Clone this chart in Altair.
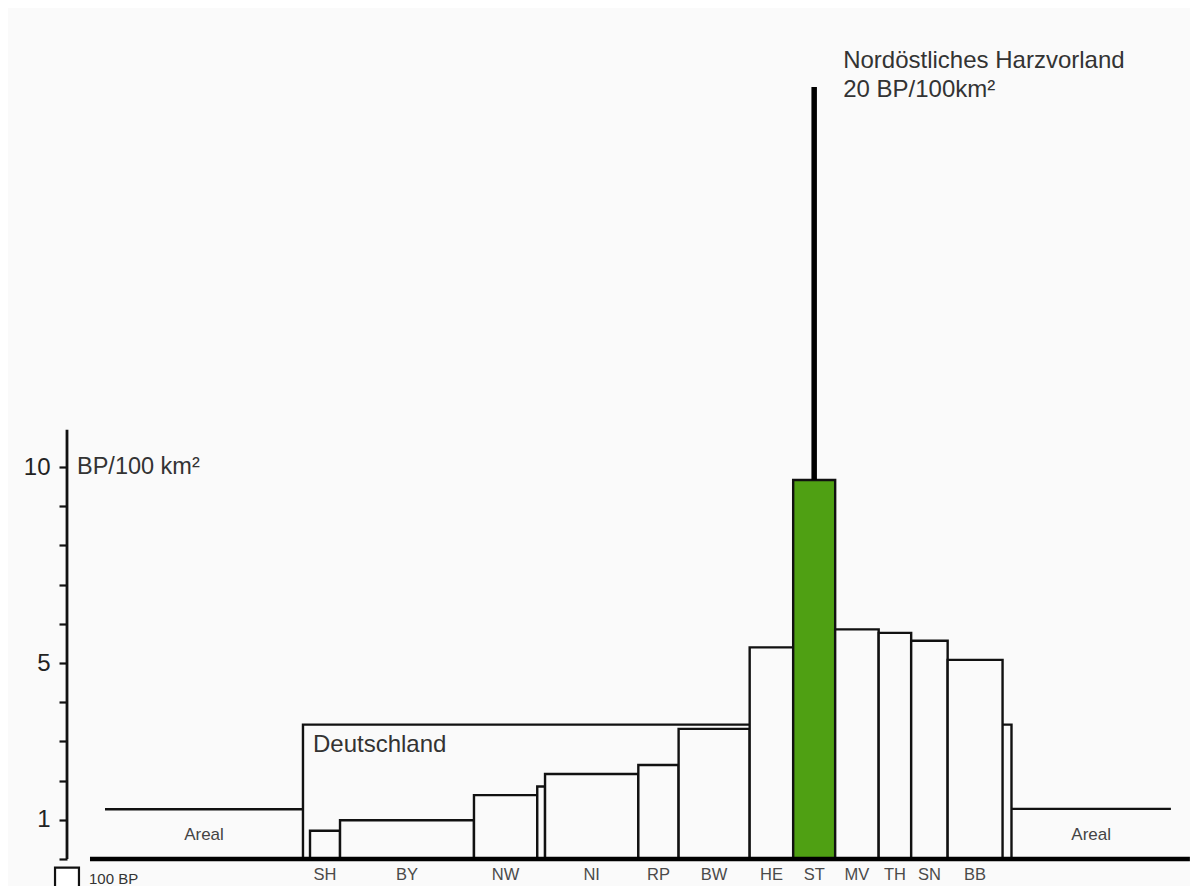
import altair as alt
import pandas as pd

# ---------------- data ----------------
# Federal states: width = area (1000 km²), height = density (BP / 100 km²)
state_labels = ["SH", "BY", "NW", "", "NI", "RP", "BW", "HE", "ST", "MV", "TH", "SN", "BB"]
state_area = [15.8, 70.5, 33.3, 4.1, 49.1, 21.2, 37.4, 22.9, 22.1, 22.9, 17.1, 19.2, 28.9]
state_density = [0.72, 0.99, 1.63, 1.85, 2.17, 2.40, 3.32, 5.40, 9.67, 5.86, 5.77, 5.57, 5.08]
highlight = "ST"

de_label = "Deutschland"
de_area = 372.9
de_density = 3.43
de_state_offset = 3.7

areal_label = "Areal"
areal_area = [104.2, 83.9]
areal_density = [1.27, 1.28]
areal_start = 20.0

baseline_range = [12.1, 591.0]
axis_top = 10.95
y_tick_values = [0, 1, 2, 3, 4, 5, 6, 7, 8, 9, 10]
y_tick_labelled = [1, 5, 10]

harz_lines = ["Nordöstliches Harzvorland", "20 BP/100km²"]
harz_density = 19.7

unit_label = "BP/100 km²"
legend_label = "100 BP"
legend_square = [12.6, 0.6]   # width (1000 km²), height (BP/100 km²)

# ---------------- build tables ----------------
de_start = areal_start + areal_area[0]
de_end = de_start + de_area

starts, ends = [], []
pos = de_start + de_state_offset
for a in state_area:
    starts.append(pos)
    pos += a
    ends.append(pos)
states = pd.DataFrame({
    "label": state_labels,
    "x0": starts,
    "x1": ends,
    "xc": [(s + e) / 2 for s, e in zip(starts, ends)],
    "y0": 0.0,
    "d": state_density,
    "hl": [l == highlight for l in state_labels],
})
de = pd.DataFrame({"x0": [de_start], "x1": [de_end], "y0": [0.0], "d": [de_density], "label": [de_label]})
areal = pd.DataFrame({
    "x0": [areal_start, de_end],
    "x1": [de_start, de_end + areal_area[1]],
    "d": areal_density,
    "label": [areal_label, areal_label],
})
areal["xc"] = (areal["x0"] + areal["x1"]) / 2
st_row = states[states["label"] == highlight].iloc[0]
harz = pd.DataFrame({"x": [st_row["xc"]], "y0": [st_row["d"]], "y1": [harz_density]})
base = pd.DataFrame({"x0": [baseline_range[0]], "x1": [baseline_range[1]], "y": [0.0]})
yaxis_line = pd.DataFrame({"x": [0.0], "y0": [0.0], "y1": [axis_top]})
legend = pd.DataFrame({"x0": [-legend_square[0] / 2], "x1": [legend_square[0] / 2],
                       "y0": [-0.22], "y1": [-0.22 - legend_square[1]], "label": [legend_label]})

W, H = 1123, 823
PX_PER_UNIT = 1.9
xs = alt.Scale(domain=[0, W / PX_PER_UNIT], nice=False, zero=False)
ys = alt.Scale(domain=[0, 21], nice=False, zero=False)
FONT = "Liberation Sans"
BG = "#fafafa"
INK = "#333333"

yax = alt.Axis(
    values=y_tick_values,
    labelExpr="indexof([" + ",".join(str(v) for v in y_tick_labelled) + "], datum.value) >= 0 ? datum.label : ''",
    domain=False, grid=False, ticks=True, tickSize=8, tickWidth=2.2, tickColor="#111",
    labelFontSize=24, labelFont=FONT, labelColor="#222", labelPadding=9, title=None,
)

def X(f, **kw):
    return alt.X(f, type="quantitative", scale=xs, axis=None, **kw)

def Y(f):
    return alt.Y(f, type="quantitative", scale=ys, axis=yax)

de_rect = alt.Chart(de).mark_rect(fill=BG, stroke="#111", strokeWidth=2.4).encode(
    x=X("x0"), x2="x1", y=Y("y0"), y2="d")

state_rect = alt.Chart(states).mark_rect(stroke="#111", strokeWidth=2.4).encode(
    x=X("x0"), x2="x1", y=Y("y0"), y2="d",
    fill=alt.condition("datum.hl", alt.value("#4fa013"), alt.value(BG)),
)

areal_line = alt.Chart(areal).mark_rule(color="#111", strokeWidth=2.4).encode(
    x=X("x0"), x2="x1", y=Y("d"))

harz_line = alt.Chart(harz).mark_rule(color="#000", strokeWidth=5.5).encode(
    x=X("x"), y=Y("y0"), y2="y1")

base_line = alt.Chart(base).mark_rule(color="#000", strokeWidth=4.5).encode(
    x=X("x0"), x2="x1", y=Y("y"))

y_line = alt.Chart(yaxis_line).mark_rule(color="#111", strokeWidth=2.8).encode(
    x=X("x"), y=Y("y0"), y2="y1")

state_text = alt.Chart(states).mark_text(
    font=FONT, fontSize=16.5, color="#4a4a4a", baseline="middle", dy=16).encode(
    x=X("xc"), y=Y("y0"), text="label:N")

de_text = alt.Chart(de).mark_text(
    font=FONT, fontSize=24, color=INK, align="left", baseline="middle", dx=10, dy=20).encode(
    x=X("x0"), y=Y("d"), text="label:N")

areal_text = alt.Chart(areal).mark_text(
    font=FONT, fontSize=17, color="#444", baseline="middle").encode(
    x=X("xc"), y=Y("d"), text="label:N").transform_calculate(
    ymid="datum.d * 0.48").encode(y=Y("ymid:Q"))

unit_df = pd.DataFrame({"x": [0.0], "y": [10.0], "label": [unit_label]})
unit_text = alt.Chart(unit_df).mark_text(
    font=FONT, fontSize=23.5, color=INK, align="left", baseline="middle", dx=10, dy=0).encode(
    x=X("x"), y=Y("y"), text="label:N")

harz_t1 = alt.Chart(pd.DataFrame({"x": [st_row["xc"]], "y": [harz_density], "t": [harz_lines[0]]})).mark_text(
    font=FONT, fontSize=24, color=INK, align="left", baseline="middle", dx=29, dy=-26).encode(
    x=X("x"), y=Y("y"), text="t:N")
harz_t2 = alt.Chart(pd.DataFrame({"x": [st_row["xc"]], "y": [harz_density], "t": [harz_lines[1]]})).mark_text(
    font=FONT, fontSize=24, color=INK, align="left", baseline="middle", dx=29, dy=3).encode(
    x=X("x"), y=Y("y"), text="t:N")

legend_rect = alt.Chart(legend).mark_rect(fill="white", stroke="#111", strokeWidth=2.2).encode(
    x=X("x0"), x2="x1", y=Y("y0"), y2="y1")
legend_text = alt.Chart(legend).mark_text(
    font=FONT, fontSize=15, color="#333", align="left", baseline="middle", dx=10).encode(
    x=X("x1"), y=Y("y1"), text="label:N").transform_calculate(
    ym="(datum.y0 + datum.y1) / 2").encode(y=Y("ym:Q"))

chart = alt.layer(
    de_rect, state_rect, areal_line, harz_line, base_line, y_line,
    state_text, de_text, areal_text, unit_text, harz_t1, harz_t2,
    legend_rect, legend_text,
).properties(
    width=W, height=H,
    autosize=alt.AutoSizeParams(type="none"),
    padding={"left": 59, "top": 28, "right": 0, "bottom": 27},
    background=BG,
).configure_view(strokeWidth=0)

chart.save("out.html", embed_options={"renderer": "svg", "actions": False})
